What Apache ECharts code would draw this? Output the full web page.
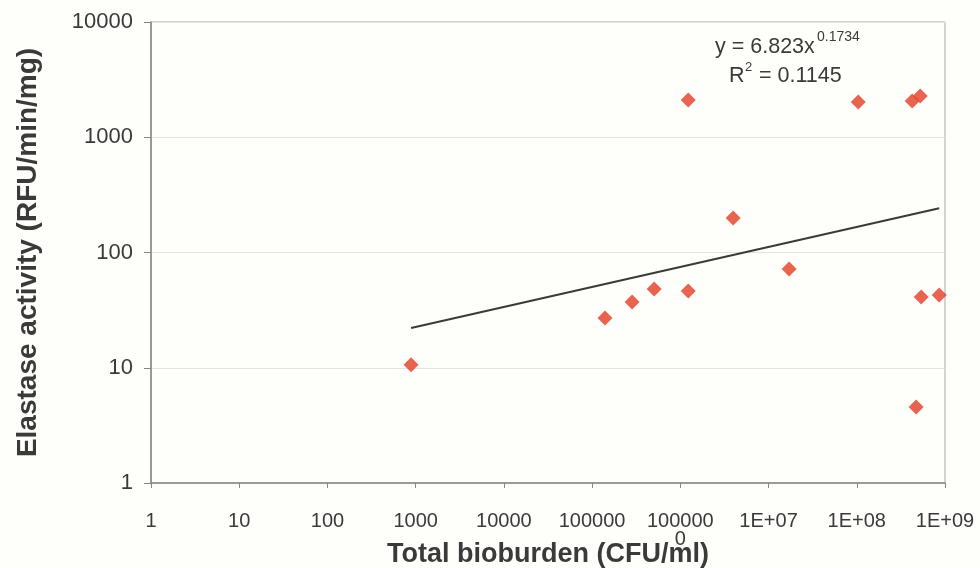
<!DOCTYPE html>
<html>
<head>
<meta charset="utf-8">
<script src="https://cdn.jsdelivr.net/npm/echarts@6/dist/echarts.min.js"></script>
<style>
html,body{margin:0;padding:0;background:#fefefa;}
#chart{width:980px;height:568px;}
</style>
</head>
<body>
<div id="chart"></div>
<script>
// Data
const bioburden = [887, 1.40e5, 2.84e5, 5.05e5, 1.23e6, 1.23e6, 3.97e6, 1.71e7, 1.04e8, 4.25e8, 5.23e8, 5.37e8, 8.6e8, 4.71e8];
const elastase  = [10.6, 27.0, 37.2, 48.2, 46.3, 2104, 199, 71.9, 2023, 2064, 2280, 41.1, 42.8, 4.57];
// Power trendline end points (y = 6.823x^0.1734)
const trendX = [887, 8.6e8];
const trendY = [22.1, 241.6];
const xTickLabels = ['1', '10', '100', '1000', '10000', '100000', '100000\n0', '1E+07', '1E+08', '1E+09'];
const yTickLabels = ['1', '10', '100', '1000', '10000'];
const equationText = 'y = 6.823x';
const equationExp = '0.1734';
const r2Text = ['R', '2', ' = 0.1145'];

const scatterData = bioburden.map((x, i) => [x, elastase[i]]);
const trendData = trendX.map((x, i) => [x, trendY[i]]);

const chart = echarts.init(document.getElementById('chart'));
const font = 'Liberation Sans, Arial, sans-serif';
chart.setOption({
  backgroundColor: '#fefefa',
  animation: false,
  textStyle: { fontFamily: font },
  grid: { left: 151, right: 35, top: 22, bottom: 85, outerBoundsMode: 'none', containLabel: false,
          show: true, borderColor: '#a8a8a8', borderWidth: 1, backgroundColor: 'transparent' },
  xAxis: {
    type: 'log', logBase: 10, min: 1, max: 1e9,
    axisLine: { lineStyle: { color: '#858585', width: 1.5 } },
    axisTick: { show: true, inside: false, length: 5, lineStyle: { color: '#858585' } },
    splitLine: { show: false },
    minorTick: { show: false },
    axisLabel: {
      margin: 29, fontSize: 20, color: '#3a3a3a', fontFamily: font, lineHeight: 18,
      formatter: v => xTickLabels[Math.round(Math.log10(v))]
    },
    name: 'Total bioburden (CFU/ml)', nameLocation: 'middle', nameGap: 58, nameMoveOverlap: false,
    nameTextStyle: { fontSize: 27, fontWeight: 'bold', color: '#3a3a3a', fontFamily: font }
  },
  yAxis: {
    type: 'log', logBase: 10, min: 1, max: 10000,
    axisLine: { show: true, lineStyle: { color: '#858585', width: 1.5 } },
    axisTick: { show: true, inside: false, length: 7, lineStyle: { color: '#858585' } },
    splitLine: { show: true, lineStyle: { color: '#e2e2e2', width: 1 } },
    axisLabel: {
      margin: 18, fontSize: 22, color: '#3a3a3a', fontFamily: font,
      formatter: v => yTickLabels[Math.round(Math.log10(v))]
    },
    name: 'Elastase activity (RFU/min/mg)', nameLocation: 'middle', nameGap: 109, nameRotate: 90, nameMoveOverlap: false,
    nameTextStyle: { fontSize: 28, fontWeight: 'bold', color: '#3a3a3a', fontFamily: font }
  },
  series: [
    {
      type: 'line', data: trendData, symbol: 'none', silent: true,
      lineStyle: { color: '#3a3a3a', width: 2 }, z: 2
    },
    {
      type: 'scatter', data: scatterData, symbol: 'diamond', symbolSize: 15,
      itemStyle: { color: '#e23d25' }, z: 3
    }
  ],
  graphic: [
    { type: 'text', left: 715, top: 36, style: { text: equationText, fontSize: 21.5, fill: '#3a3a3a', fontFamily: font } },
    { type: 'text', left: 817, top: 30, style: { text: equationExp, fontSize: 14, fill: '#3a3a3a', fontFamily: font } },
    { type: 'text', left: 729, top: 65, style: { text: r2Text[0], fontSize: 21.5, fill: '#3a3a3a', fontFamily: font } },
    { type: 'text', left: 745, top: 61, style: { text: r2Text[1], fontSize: 13, fill: '#3a3a3a', fontFamily: font } },
    { type: 'text', left: 753, top: 65, style: { text: r2Text[2], fontSize: 21.5, fill: '#3a3a3a', fontFamily: font } }
  ]
});
</script>
</body>
</html>
